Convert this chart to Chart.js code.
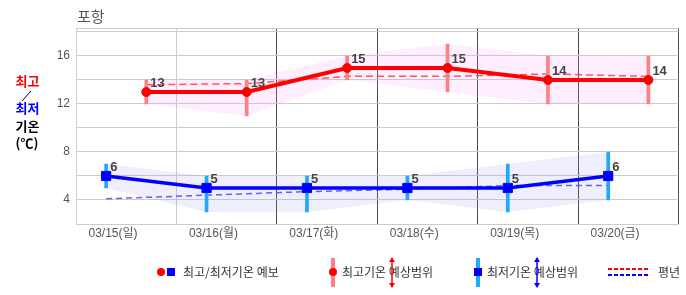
<!DOCTYPE html>
<html>
<head>
<meta charset="utf-8">
<script src="https://cdn.jsdelivr.net/npm/chart.js@4/dist/chart.umd.min.js"></script>
<style>
  html, body { margin: 0; padding: 0; background: #fff; }
  #wrap { width: 686px; height: 295px; }
</style>
</head>
<body>
<div id="wrap"><canvas id="tempChart"></canvas></div>
<script>
// data
const days = ['03/15(일)', '03/16(월)', '03/17(화)', '03/18(수)', '03/19(목)', '03/20(금)'];
const maxTemp = [13, 13, 15, 15, 14, 14];
const maxLow = [12, 11, 14, 13, 12, 12];
const maxHigh = [14, 14, 16, 17, 16, 16];
const maxNormal = [13.6, 13.7, 14.3, 14.3, 14.5, 14.3];
const minTemp = [6, 5, 5, 5, 5, 6];
const minLow = [5, 3, 3, 4, 3, 4];
const minHigh = [7, 6, 6, 6, 7, 8];
const minNormal = [4.1, 4.4, 4.7, 4.9, 5.2, 5.2];
const yGrid = [2, 4, 6, 8, 10, 12, 14, 16, 18];
const yLabels = [4, 8, 12, 16];

// red marks sit right of the day centre, blue ones left of it
const redShift = 0.2;
const blueShift = -0.2;
const pts = (vals, shift) => vals.map((v, i) => ({ x: i + 0.5 + shift, y: v }));
const range = (lo, hi, shift) => lo.map((v, i) => ({ x: i + 0.5 + shift, y: [v, hi[i]] }));

const FONT = 'Liberation Sans, "Noto Sans CJK KR", sans-serif';
const KFONT = '"Noto Sans CJK KR", sans-serif';

const decorPlugin = {
    id: 'decor',
    afterDatasetsDraw(chart) {
        const ctx = chart.ctx;
        // value labels
        ctx.save();
        ctx.font = 'bold 13px ' + FONT;
        ctx.fillStyle = '#444';
        ctx.textAlign = 'left';
        ctx.textBaseline = 'bottom';
        [[0, maxTemp], [1, minTemp]].forEach(([di, vals]) => {
            chart.getDatasetMeta(di).data.forEach((p, i) => {
                ctx.fillText(vals[i], p.x + 4, p.y - 2);
            });
        });
        ctx.restore();
    },
    afterDraw(chart) {
        const ctx = chart.ctx;
        const a = chart.chartArea;
        ctx.save();
        // top border
        ctx.strokeStyle = '#cccccc';
        ctx.lineWidth = 1;
        ctx.beginPath();
        ctx.moveTo(a.left, a.top + 0.5);
        ctx.lineTo(a.right, a.top + 0.5);
        ctx.stroke();

        // title
        ctx.font = '15px ' + KFONT;
        ctx.fillStyle = '#555';
        ctx.textAlign = 'left';
        ctx.textBaseline = 'middle';
        ctx.fillText('포항', a.left + 1, 16);

        // y title
        ctx.font = 'bold 13px ' + KFONT;
        ctx.textAlign = 'center';
        ctx.fillStyle = '#ff0000';
        ctx.fillText('최고', 27.5, 81);
        ctx.strokeStyle = '#000';
        ctx.beginPath();
        ctx.moveTo(31, 91);
        ctx.lineTo(22, 101);
        ctx.stroke();
        ctx.fillStyle = '#0000ff';
        ctx.fillText('최저', 27.5, 108.5);
        ctx.fillStyle = '#000';
        ctx.fillText('기온', 27.5, 126);
        ctx.fillText('(℃)', 27, 143);

        // legend
        const ly = 272;
        ctx.font = '12px ' + KFONT;
        ctx.fillStyle = '#333';
        ctx.textAlign = 'left';
        ctx.fillText('최고/최저기온 예보', 183, ly);
        ctx.fillText('최고기온 예상범위', 342, ly);
        ctx.fillText('최저기온 예상범위', 487, ly);
        ctx.fillText('평년', 658, ly);

        ctx.fillStyle = '#ff0000';
        ctx.beginPath();
        ctx.arc(161, ly, 4, 0, Math.PI * 2);
        ctx.fill();
        ctx.fillStyle = '#0000ff';
        ctx.fillRect(167, ly - 4, 8, 8);

        ctx.fillStyle = '#ff8080';
        ctx.fillRect(331, 258, 4, 29);
        ctx.fillStyle = '#ff0000';
        ctx.beginPath();
        ctx.arc(333, ly, 4, 0, Math.PI * 2);
        ctx.fill();

        ctx.fillStyle = '#22aaff';
        ctx.fillRect(476, 258, 4, 29);
        ctx.fillStyle = '#0000ff';
        ctx.fillRect(474, ly - 4, 8, 8);

        const arrow = (x, color) => {
            ctx.strokeStyle = color;
            ctx.fillStyle = color;
            ctx.lineWidth = 1.5;
            ctx.beginPath();
            ctx.moveTo(x, 260);
            ctx.lineTo(x, 285);
            ctx.stroke();
            ctx.beginPath();
            ctx.moveTo(x, 257); ctx.lineTo(x - 3, 262); ctx.lineTo(x + 3, 262); ctx.closePath();
            ctx.fill();
            ctx.beginPath();
            ctx.moveTo(x, 288); ctx.lineTo(x - 3, 283); ctx.lineTo(x + 3, 283); ctx.closePath();
            ctx.fill();
        };
        arrow(392, '#ff0000');
        arrow(537, '#0000ff');

        ctx.lineWidth = 2;
        ctx.setLineDash([4, 2]);
        ctx.strokeStyle = '#ff0000';
        ctx.beginPath();
        ctx.moveTo(608, 269);
        ctx.lineTo(648, 269);
        ctx.stroke();
        ctx.strokeStyle = '#0000ff';
        ctx.beginPath();
        ctx.moveTo(608, 275);
        ctx.lineTo(648, 275);
        ctx.stroke();
        ctx.restore();
    }
};

const ctx = document.getElementById('tempChart');
new Chart(ctx, {
    type: 'line',
    data: {
        datasets: [{
            // 0 max forecast
            data: pts(maxTemp, redShift),
            borderColor: '#ff0000',
            backgroundColor: '#ff0000',
            borderWidth: 4,
            pointRadius: 4.5,
            pointBorderWidth: 1,
            pointStyle: 'circle',
            order: 1
        }, {
            // 1 min forecast
            data: pts(minTemp, blueShift),
            borderColor: '#0000ff',
            backgroundColor: '#0000ff',
            borderWidth: 3.5,
            pointRadius: 6.5,
            pointBorderWidth: 1,
            pointStyle: 'rect',
            order: 2
        }, {
            // 2 max range bars
            type: 'bar',
            data: range(maxLow, maxHigh, redShift),
            backgroundColor: '#ff8080',
            barThickness: 3,
            grouped: false,
            order: 3
        }, {
            // 3 min range bars
            type: 'bar',
            data: range(minLow, minHigh, blueShift),
            backgroundColor: '#1ea8ff',
            barThickness: 3,
            grouped: false,
            order: 4
        }, {
            // 4 max normal
            data: pts(maxNormal, redShift),
            borderColor: 'rgba(255,50,50,0.8)',
            borderWidth: 1.5,
            borderDash: [7, 4],
            pointRadius: 0,
            order: 5
        }, {
            // 5 min normal
            data: pts(minNormal, blueShift),
            borderColor: 'rgba(60,60,255,0.8)',
            borderWidth: 1.5,
            borderDash: [6, 4],
            pointRadius: 0,
            order: 6
        }, {
            // 6 max band low
            data: pts(maxLow, redShift),
            borderWidth: 0,
            pointRadius: 0,
            fill: false,
            order: 7
        }, {
            // 7 max band high
            data: pts(maxHigh, redShift),
            borderWidth: 0,
            pointRadius: 0,
            fill: 6,
            backgroundColor: 'rgba(255,140,255,0.15)',
            order: 8
        }, {
            // 8 min band low
            data: pts(minLow, blueShift),
            borderWidth: 0,
            pointRadius: 0,
            fill: false,
            order: 9
        }, {
            // 9 min band high
            data: pts(minHigh, blueShift),
            borderWidth: 0,
            pointRadius: 0,
            fill: 8,
            backgroundColor: 'rgba(140,140,240,0.15)',
            order: 10
        }]
    },
    options: {
        responsive: true,
        maintainAspectRatio: false,
        animation: false,
        layout: { padding: { left: 0, right: 4, top: 28, bottom: 0 } },
        elements: { line: { tension: 0 } },
        scales: {
            x: {
                type: 'linear',
                offset: false,
                min: 0,
                max: days.length,
                afterBuildTicks: s => { s.ticks = days.map((d, i) => ({ value: i })).concat([{ value: days.length }]); },
                afterFit: s => { s.height = 71; },
                ticks: {
                    callback: v => days[v] || '',
                    labelOffset: 37,
                    padding: 2,
                    autoSkip: false,
                    maxRotation: 0,
                    color: '#555',
                    font: { family: FONT, size: 12 }
                },
                grid: {
                    offset: false,
                    color: c => (c.tick && c.tick.value >= 2) ? '#4d4d4d' : '#cccccc',
                    drawTicks: false
                },
                border: { color: '#cccccc' }
            },
            y: {
                min: 2,
                max: 18.33,
                afterBuildTicks: s => { s.ticks = yGrid.map(v => ({ value: v })); },
                afterFit: s => { s.width = 76; },
                ticks: {
                    callback: v => yLabels.includes(v) ? v : '',
                    padding: 6,
                    color: '#555',
                    font: { family: FONT, size: 12 }
                },
                grid: { color: '#cccccc', drawTicks: false },
                border: { color: '#cccccc' }
            }
        },
        plugins: {
            legend: { display: false },
            tooltip: { enabled: false }
        }
    },
    plugins: [decorPlugin]
});
</script>
</body>
</html>
